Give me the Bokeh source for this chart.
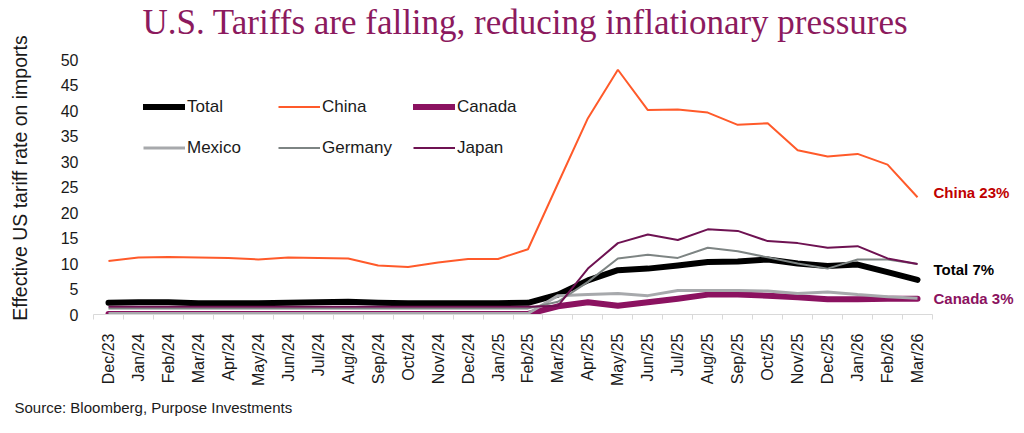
import math

from bokeh.plotting import figure
from bokeh.models import Range1d, FixedTicker, Legend, LegendItem, Label, Title
from bokeh.embed import file_html
from bokeh.resources import INLINE

# Monthly effective US tariff rate on imports (%)
months = ["Dec/23", "Jan/24", "Feb/24", "Mar/24", "Apr/24", "May/24", "Jun/24",
          "Jul/24", "Aug/24", "Sep/24", "Oct/24", "Nov/24", "Dec/24", "Jan/25",
          "Feb/25", "Mar/25", "Apr/25", "May/25", "Jun/25", "Jul/25", "Aug/25",
          "Sep/25", "Oct/25", "Nov/25", "Dec/25", "Jan/26", "Feb/26", "Mar/26"]

total = [2.3, 2.4, 2.4, 2.2, 2.2, 2.2, 2.3, 2.4, 2.5, 2.3, 2.2, 2.2, 2.2, 2.2,
         2.3, 3.9, 6.7, 8.7, 9.0, 9.6, 10.3, 10.4, 10.8, 10.0, 9.5, 9.8, 8.3, 6.8]
china = [10.5, 11.2, 11.3, 11.2, 11.1, 10.8, 11.2, 11.1, 11.0, 9.6, 9.3, 10.2,
         10.9, 10.9, 12.8, 25.7, 38.5, 48.0, 40.1, 40.2, 39.6, 37.2, 37.5, 32.2,
         31.0, 31.5, 29.4, 23.0]
canada = [0.1, 0.1, 0.1, 0.1, 0.1, 0.1, 0.1, 0.1, 0.1, 0.1, 0.1, 0.1, 0.1, 0.1,
          0.1, 1.6, 2.4, 1.7, 2.4, 3.1, 3.9, 3.9, 3.7, 3.4, 3.0, 3.0, 3.1, 3.1]
mexico = [0.2, 0.2, 0.2, 0.2, 0.2, 0.2, 0.2, 0.2, 0.2, 0.2, 0.2, 0.2, 0.2, 0.2,
          0.2, 3.7, 3.9, 4.1, 3.7, 4.7, 4.7, 4.7, 4.6, 4.1, 4.4, 3.9, 3.5, 3.2]
germany = [1.2, 1.2, 1.2, 1.2, 1.2, 1.2, 1.2, 1.2, 1.2, 1.2, 1.2, 1.2, 1.2, 1.2,
           1.2, 2.5, 6.4, 11.0, 11.7, 11.1, 13.1, 12.4, 11.2, 10.0, 9.0, 10.8,
           10.8, 9.9]
japan = [1.5, 1.5, 1.5, 1.5, 1.5, 1.5, 1.5, 1.5, 1.5, 1.5, 1.5, 1.5, 1.5, 1.5,
         1.5, 1.7, 9.0, 14.0, 15.7, 14.6, 16.7, 16.4, 14.4, 14.0, 13.1, 13.4,
         11.0, 9.9]

y_ticks = [0, 5, 10, 15, 20, 25, 30, 35, 40, 45, 50]

TITLE_COLOR = "#8C1A5E"
FONT = "Liberation Sans"
TEXT = "#1A1A1A"

series = {
    "Total": (total, dict(line_color="#000000", line_width=6, line_cap="round", line_join="round")),
    "China": (china, dict(line_color="#FF5A2A", line_width=2)),
    "Canada": (canada, dict(line_color="#8B1260", line_width=6, line_cap="round", line_join="round")),
    "Mexico": (mexico, dict(line_color="#A7A9AC", line_width=3)),
    "Germany": (germany, dict(line_color="#7D8483", line_width=2)),
    "Japan": (japan, dict(line_color="#6E1252", line_width=2)),
}

x = list(range(len(months)))
n = len(months)

# Frame sits right under the title and runs past the last month so the end
# callouts fit inside it; ticks still stop at 50 and at the last month.
TITLE_H, TOP_TICK_Y, FRAME_BOTTOM = 42, 60, 314
y_top = y_ticks[-1] * (FRAME_BOTTOM - TITLE_H) / (FRAME_BOTTOM - TOP_TICK_Y)
p = figure(width=1024, height=433, output_backend="svg", toolbar_location=None,
           x_range=Range1d(-0.5, n + 2.57), y_range=Range1d(0, y_top),
           min_border_left=93, min_border_right=0, min_border_top=0,
           min_border_bottom=433 - FRAME_BOTTOM)
p.title = Title(text="U.S. Tariffs are falling, reducing inflationary pressures",
                align="left", offset=49, text_font="Liberation Serif",
                text_font_size="35px", text_font_style="normal",
                text_color=TITLE_COLOR, standoff=0)
p.outline_line_color = None
p.background_fill_color = "white"
p.border_fill_color = "white"
p.xgrid.visible = False
p.ygrid.visible = False

renderers = {}
for name, (vals, style) in series.items():
    renderers[name] = p.line(x, vals, **style)

# legend columns fill top to bottom: (Total, Mexico), (China, Germany), (Canada, Japan)
legend_order = ["Total", "Mexico", "China", "Germany", "Canada", "Japan"]
legend = Legend(items=[LegendItem(label=k, renderers=[renderers[k]]) for k in legend_order],
                ncols=3, location=(50, 146),
                glyph_width=42, glyph_height=41, label_height=41, label_width=91,
                label_standoff=2, spacing=0, padding=0, margin=0,
                border_line_color=None, background_fill_alpha=0,
                label_text_font=FONT, label_text_font_size="17px",
                label_text_color=TEXT)
p.add_layout(legend)

# x axis: labels at month centres, short ticks between months
xa = p.xaxis[0]
xa.bounds = (-0.5, n - 0.5)
xa.ticker = FixedTicker(ticks=x, minor_ticks=[i - 0.5 for i in range(n + 1)])
xa.major_label_overrides = {i: m for i, m in enumerate(months)}
xa.major_label_orientation = math.pi / 2
xa.major_label_text_font = FONT
xa.major_label_text_font_size = "16px"
xa.major_label_text_color = TEXT
xa.major_label_standoff = 14
xa.major_tick_line_color = None
xa.major_tick_out = 0
xa.major_tick_in = 0
xa.minor_tick_line_color = "#D9D9D9"
xa.minor_tick_out = 5
xa.minor_tick_in = 0
xa.axis_line_color = "#D9D9D9"

ya = p.yaxis[0]
ya.ticker = FixedTicker(ticks=y_ticks)
ya.axis_line_color = None
ya.major_tick_line_color = None
ya.minor_tick_line_color = None
ya.major_tick_out = 0
ya.major_tick_in = 0
ya.major_label_standoff = 15
ya.major_label_text_font = FONT
ya.major_label_text_font_size = "16px"
ya.major_label_text_color = TEXT
ya.axis_label = "Effective US tariff rate on imports"
ya.axis_label_text_font = FONT
ya.axis_label_text_font_size = "19.5px"
ya.axis_label_text_font_style = "normal"
ya.axis_label_text_color = TEXT
ya.axis_label_standoff = 27

# source note under the axis
p.add_layout(Title(text="Source: Bloomberg, Purpose Investments", align="left",
                   offset=-79, text_font=FONT, text_font_size="15px",
                   text_font_style="normal", text_color=TEXT, standoff=16), "below")

# end-of-line value callouts, anchored to each series' last value
callouts = [
    ("China", china, "#C00000", 5),
    ("Total", total, "#000000", 10),
    ("Canada", canada, "#8B1260", 0),
]
for name, vals, color, lift in callouts:
    p.add_layout(Label(x=n - 0.5, y=vals[-1], y_offset=lift, x_offset=1,
                       text=f"{name} {vals[-1]:.0f}%",
                       text_font=FONT, text_font_size="15px", text_font_style="bold",
                       text_color=color, text_align="left", text_baseline="middle"))

open("out.html", "w").write(file_html(p, INLINE))
